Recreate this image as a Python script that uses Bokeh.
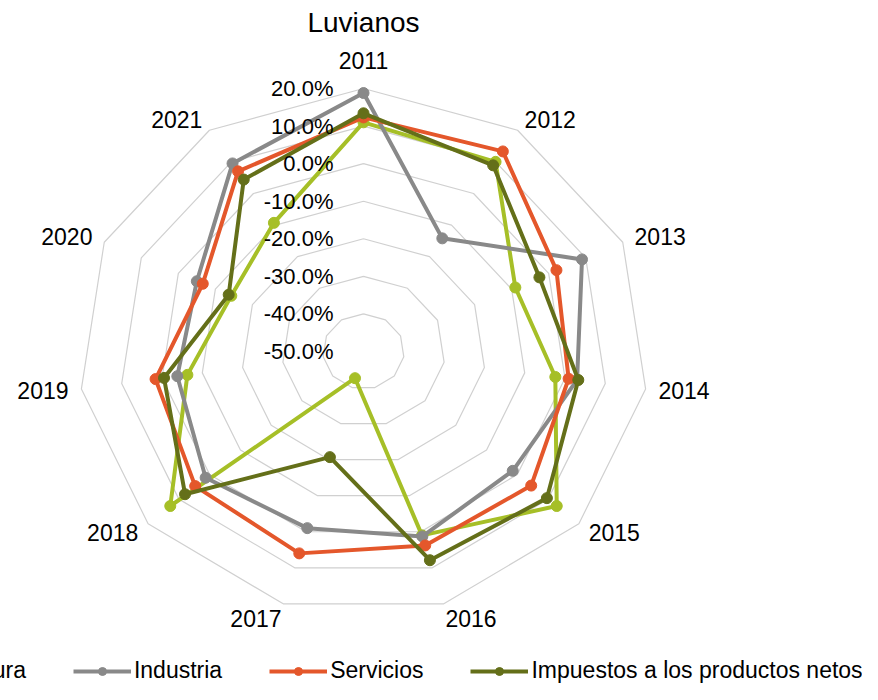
import numpy as np
from bokeh.plotting import figure
from bokeh.models import Range1d, Legend, LegendItem, Label
from bokeh.core.properties import value
from bokeh.embed import file_html
from bokeh.resources import INLINE

# ---------------- data ----------------
years = ["2011", "2012", "2013", "2014", "2015", "2016",
         "2017", "2018", "2019", "2020", "2021"]
agricultura = [11.0, 10.0, -9.0, -2.4, 12.8, 1.0, -42.6, 12.8, -6.3, -14.3, -9.3]
industria = [18.8, -14.2, 9.0, 3.0, -1.5, 1.3, -1.0, 1.3, -3.8, -5.0, 9.5]
servicios = [12.3, 13.3, 2.1, 0.9, 4.5, 3.8, 6.0, 4.7, 1.6, -6.6, 7.0]
impuestos = [13.4, 8.9, -2.5, 3.3, 9.6, 7.9, -20.7, 8.0, -0.5, -13.6, 4.4]
series_names = ["Agricultura", "Industria", "Servicios", "Impuestos a los productos netos"]
series_values = [agricultura, industria, servicios, impuestos]
series_colors = ["#A6BF27", "#898989", "#E4572B", "#646F19"]
tick_values = [-50, -40, -30, -20, -10, 0, 10, 20]
tick_labels = ["-50.0%", "-40.0%", "-30.0%", "-20.0%", "-10.0%", "0.0%", "10.0%", "20.0%"]
r_min, r_max = -50.0, 20.0
title_text = "Luvianos"

# ---------------- layout ----------------
W, H = 862, 684
CX, CY = 363, 351      # canvas px of radar centre
RX, RY = 285, 263      # px of full radius (x / y)
FONT = "Liberation Sans"

p = figure(width=W, height=H,
           x_range=Range1d(-CX / RX, (W - CX) / RX),
           y_range=Range1d((CY - H) / RY, CY / RY),
           output_backend="svg", toolbar_location=None,
           x_axis_location=None, y_axis_location=None,
           min_border=0, min_border_left=0, min_border_right=0,
           min_border_top=0, min_border_bottom=0)
p.grid.visible = False
p.outline_line_color = None
p.background_fill_color = "white"
p.border_fill_color = "white"

n = len(years)
theta = 2 * np.pi * np.arange(n) / n
s, c = np.sin(theta), np.cos(theta)

def rad(v):
    return (np.asarray(v, dtype=float) - r_min) / (r_max - r_min)

# grid rings
ring_xs, ring_ys = [], []
for tv in tick_values[1:]:
    r = rad(tv)
    ring_xs.append(list(np.append(r * s, r * s[0])))
    ring_ys.append(list(np.append(r * c, r * c[0])))
p.multi_line(ring_xs, ring_ys, line_color="#D0D0D0", line_width=1.2)

# series
items = []
for name, vals, col in zip(series_names, series_values, series_colors):
    r = rad(vals)
    x, y = r * s, r * c
    lr = p.line(np.append(x, x[0]), np.append(y, y[0]), line_color=col,
                line_width=4, line_join="round")
    sr = p.scatter(x, y, size=11, fill_color=col, line_color=col, marker="circle")
    items.append(LegendItem(label=name, renderers=[lr, sr]))

# radial tick labels
p.text(x=[-30 / RX] * len(tick_values), y=list(rad(tick_values)), text=tick_labels,
       text_align="right", text_baseline="middle", text_font=value(FONT),
       text_font_size="22px", text_color="#000000")

# category labels
for k, yr in enumerate(years):
    if s[k] > 0.1:
        align = "left"
    elif s[k] < -0.1:
        align = "right"
    else:
        align = "center"
    if c[k] > 0.9:
        base, pad = "bottom", 20
    elif c[k] < -0.9:
        base, pad = "top", 6
    else:
        base, pad = "middle", 13
    p.text(x=[s[k]], y=[c[k]], text=[yr], x_offset=pad * s[k], y_offset=-pad * c[k],
           text_align=align, text_baseline=base, text_font=value(FONT),
           text_font_size="23px", text_color="#000000")

# title
p.add_layout(Label(x=CX, y=H - 22, x_units="screen", y_units="screen",
                   text=title_text, text_align="center", text_baseline="alphabetic",
                   text_font=FONT, text_font_size="28px", text_color="#000000"))

legend = Legend(items=items, orientation="horizontal", location=(-145, 0),
                glyph_width=58, glyph_height=20, label_standoff=3, spacing=47,
                padding=0, margin=0, border_line_color=None,
                background_fill_alpha=0, label_text_font=FONT,
                label_text_font_size="23px", label_text_color="#000000")
p.add_layout(legend)

open("out.html", "w").write(file_html(p, INLINE))
